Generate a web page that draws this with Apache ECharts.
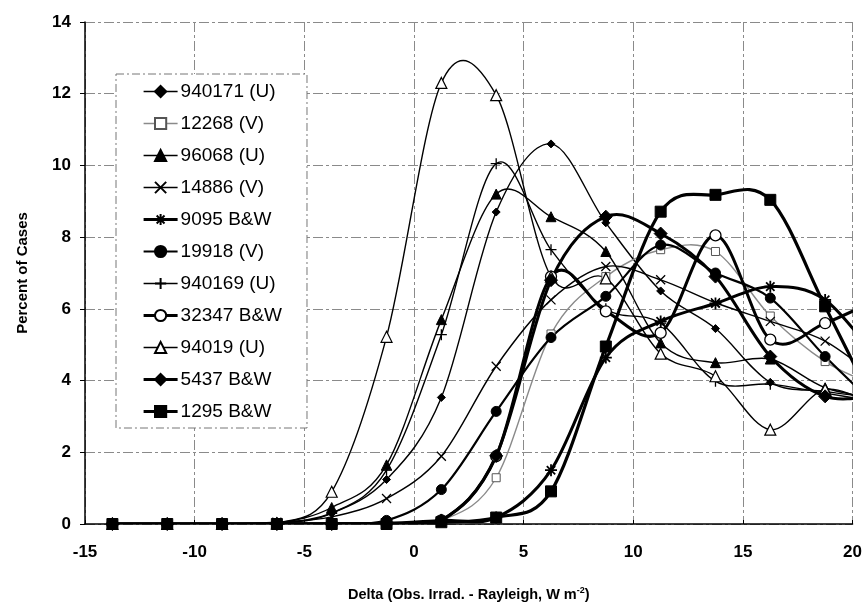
<!DOCTYPE html>
<html>
<head>
<meta charset="utf-8">
<script src="https://cdn.jsdelivr.net/npm/echarts@6/dist/echarts.min.js"></script>
<style>
html,body{margin:0;padding:0;background:#fff;}
#c{width:865px;height:611px;}
</style>
</head>
<body>
<div id="c"></div>
<script>
// ---- data (x = bin centres, Delta W m-2) ----
const xs = [-13.75,-11.25,-8.75,-6.25,-3.75,-1.25,1.25,3.75,6.25,8.75,11.25,13.75,16.25,18.75,21.25];
const names = ['940171 (U)','12268 (V)','96068 (U)','14886 (V)','9095 B&W','19918 (V)','940169 (U)','32347 B&W','94019 (U)','5437 B&W','1295 B&W'];
const s940171 = [0,0,0,0.02,0.3,1.24,3.53,8.7,10.6,8.4,6.5,5.45,3.95,3.7,3.5];
const s12268  = [0,0,0,0,0,0.02,0.1,1.29,5.3,6.9,7.65,7.6,5.8,4.53,3.8];
const s96068  = [0,0,0,0.02,0.46,1.65,5.7,9.2,8.57,7.6,5.05,4.5,4.6,3.8,3.5];
const s14886  = [0,0,0,0.05,0.2,0.71,1.89,4.4,6.25,7.18,6.81,6.17,5.65,5.1,4.0];
const s9095   = [0,0,0,0,0,0.02,0.1,0.18,1.5,4.64,5.65,6.15,6.62,6.25,4.5];
const s19918  = [0,0,0,0,0.02,0.1,0.96,3.14,5.2,6.35,7.78,7.0,6.3,4.67,3.2];
const s940169 = [0,0,0,0.02,0.3,1.5,5.28,10.05,7.65,6.0,5.6,3.98,3.9,3.65,3.4];
const s32347  = [0,0,0,0,0,0.02,0.1,1.89,6.9,5.93,5.33,8.05,5.14,5.6,6.3];
const s94019  = [0,0,0,0.02,0.9,5.22,12.3,11.96,6.9,6.85,4.75,4.12,2.63,3.75,3.2];
const s5437   = [0,0,0,0,0,0.02,0.1,1.9,6.8,8.57,8.1,6.9,4.67,3.56,3.6];
const s1295   = [0,0,0,0,0,0,0.05,0.18,0.91,4.95,8.71,9.18,9.04,6.07,3.0];
const yTicks = [0,2,4,6,8,10,12,14];
const xTicks = [-15,-10,-5,0,5,10,15,20];

const FONT = '"Liberation Sans", Arial, sans-serif';
const X_PATH = 'path://M0,0L10,10M10,0L0,10';
const PLUS_PATH = 'path://M5,0L5,10M0,5L10,5';
const STAR_PATH = 'path://M5,0L5,10M0,5L10,5M1.5,1.5L8.5,8.5M8.5,1.5L1.5,8.5';

const styles = [
  {arr:s940171, symbol:'diamond', size:8, lw:1.4, fill:'#000'},
  {arr:s12268,  symbol:'rect', size:8, lw:1.4, lc:'#8a8a8a', fill:'#fff', stroke:'#555', bw:1},
  {arr:s96068,  symbol:'triangle', size:10, lw:1.4, fill:'#000'},
  {arr:s14886,  symbol:X_PATH, size:9, lw:1.4, fill:'none', bw:1.3},
  {arr:s9095,   symbol:STAR_PATH, size:12, lw:3, fill:'none', bw:1.8},
  {arr:s19918,  symbol:'circle', size:10, lw:2.2, fill:'#000'},
  {arr:s940169, symbol:PLUS_PATH, size:11, lw:1.4, fill:'none', bw:1.3},
  {arr:s32347,  symbol:'circle', size:11, lw:3, fill:'#fff', bw:1.3},
  {arr:s94019,  symbol:'triangle', size:11, lw:1.4, fill:'#fff', bw:1.2},
  {arr:s5437,   symbol:'diamond', size:13, lw:3, fill:'#000'},
  {arr:s1295,   symbol:'rect', size:11, lw:3.2, fill:'#000'}
];

// smooth curve (Catmull-Rom style Bezier, like a spreadsheet "smoothed line") through scale coords
function curveSeries(name, arr, o) {
  return {
    name: name + ' curve', type: 'custom', clip: true, silent: true, z: 1,
    data: xs.map((x, i) => [x, arr[i]]),
    encode: { x: 0, y: 1 },
    renderItem: function (params, api) {
      if (params.dataIndex !== 0) return null;
      const p = xs.map((x, i) => api.coord([x, arr[i]]));
      const kids = [];
      const n = p.length;
      for (let i = 0; i < n - 1; i++) {
        const p0 = p[i - 1] || p[i], p1 = p[i], p2 = p[i + 1], p3 = p[i + 2] || p[i + 1];
        kids.push({
          type: 'bezierCurve',
          shape: {
            x1: p1[0], y1: p1[1], x2: p2[0], y2: p2[1],
            cpx1: p1[0] + (p2[0] - p0[0]) / 6, cpy1: p1[1] + (p2[1] - p0[1]) / 6,
            cpx2: p2[0] - (p3[0] - p1[0]) / 6, cpy2: p2[1] - (p3[1] - p1[1]) / 6
          },
          style: { fill: null, stroke: o.lc || '#000', lineWidth: o.lw, lineCap: 'round' }
        });
      }
      return { type: 'group', children: kids };
    }
  };
}

function markerSeries(name, arr, o) {
  return {
    name: name, type: 'line', smooth: false,
    data: xs.map((x, i) => [x, arr[i]]),
    symbol: o.symbol, symbolSize: o.size,
    lineStyle: { width: o.lw, color: o.lc || '#000', opacity: 0 },
    itemStyle: { color: o.fill, borderColor: o.stroke || '#000', borderWidth: o.bw || 1 },
    emphasis: { disabled: true },
    z: 3
  };
}

const series = [];
names.forEach((nm, k) => series.push(curveSeries(nm, styles[k].arr, styles[k])));
names.forEach((nm, k) => series.push(markerSeries(nm, styles[k].arr, styles[k])));

const legendData = names.map((nm, k) => ({
  name: nm,
  lineStyle: { opacity: 1, width: styles[k].lw, color: styles[k].lc || '#000' }
}));

const gridLine = { show: true, lineStyle: { color: '#8a8a8a', width: 1, type: [10, 3, 3, 3] } };

const chart = echarts.init(document.getElementById('c'), null, { renderer: 'canvas' });
chart.setOption({
  animation: false,
  backgroundColor: '#fff',
  grid: { left: 85, right: 7, top: 22, bottom: 87, containLabel: false },
  xAxis: {
    type: 'value', min: xTicks[0], max: xTicks[xTicks.length - 1], interval: 5,
    axisLine: { show: true, onZero: false, lineStyle: { color: '#000', width: 1.5 } },
    axisTick: { show: true, inside: true, length: 4, lineStyle: { color: '#000' } },
    splitLine: gridLine,
    axisLabel: { color: '#000', fontFamily: FONT, fontWeight: 'bold', fontSize: 17, margin: 20 },
    name: 'Delta (Obs. Irrad. - Rayleigh, W m{sup|-2})',
    nameLocation: 'middle', nameGap: 62,
    nameTextStyle: {
      color: '#000', fontFamily: FONT, fontWeight: 'bold', fontSize: 14.5,
      rich: { sup: { fontFamily: FONT, fontWeight: 'bold', fontSize: 9, color: '#000', verticalAlign: 'bottom', padding: [0, 0, 9, 0] } }
    }
  },
  yAxis: {
    type: 'value', min: yTicks[0], max: yTicks[yTicks.length - 1], interval: 2,
    axisLine: { show: true, onZero: false, lineStyle: { color: '#000', width: 1.5 } },
    axisTick: { show: true, length: 5, lineStyle: { color: '#000' } },
    splitLine: gridLine,
    axisLabel: { color: '#000', fontFamily: FONT, fontWeight: 'bold', fontSize: 17, margin: 14 },
    name: 'Percent of Cases', nameLocation: 'middle', nameGap: 55,
    nameTextStyle: { color: '#000', fontFamily: FONT, fontWeight: 'bold', fontSize: 15 }
  },
  legend: {
    data: legendData, orient: 'vertical', left: 116, top: 74,
    padding: [8, 25, 7, 26],
    itemWidth: 34, itemHeight: 14, itemGap: 13,
    backgroundColor: '#fff',
    borderColor: '#777', borderWidth: 1, borderType: [8, 3, 2, 3],
    textStyle: { color: '#000', fontFamily: FONT, fontSize: 19, lineHeight: 19, padding: [0, 0, 0, -2] },
    selectedMode: false
  },
  series: series
});
</script>
</body>
</html>
